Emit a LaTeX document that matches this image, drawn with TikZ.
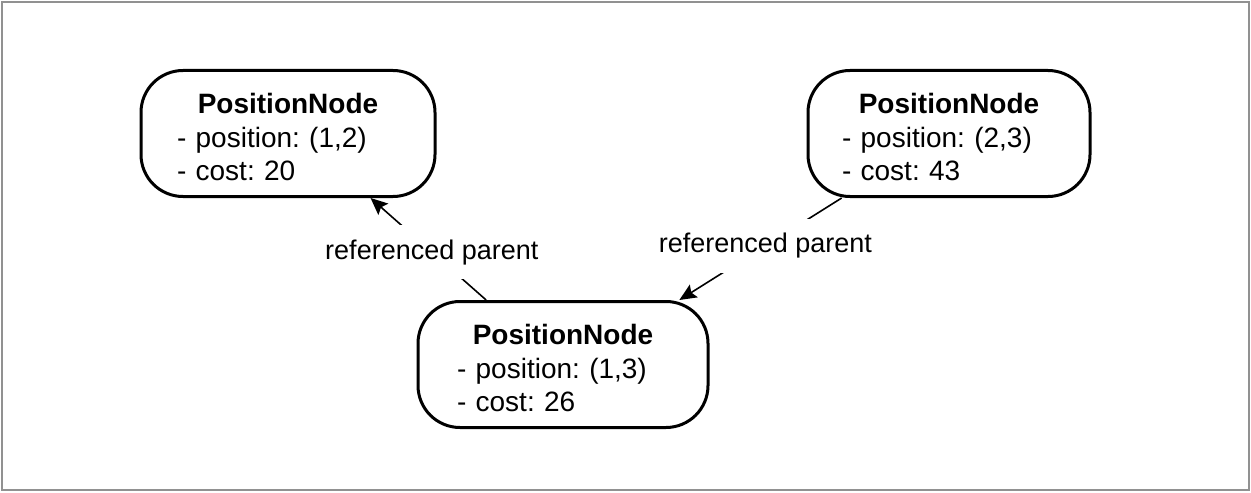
\documentclass[tikz,border=0pt]{standalone}
\usepackage{fontspec}
\setmainfont{Liberation Sans}
\usetikzlibrary{arrows.meta}
\definecolor{framegray}{RGB}{145,145,145}
\frenchspacing

\begin{document}
\begin{tikzpicture}[x=0.5pt, y=-0.5pt]
\tikzset{posnode/.style={draw, line width=1.5pt, rounded corners=21pt, minimum height=63pt, inner sep=0pt, align=left, text depth=30pt, font=\fontsize{14}{16.8}\selectfont},
  reflabel/.style={pos=0.47, fill=white, inner sep=0pt, minimum height=27pt, font=\fontsize{13.5}{16}\selectfont},
  refarrow/.style={line width=0.8pt, -{Stealth[length=8.5pt, width=7.5pt, inset=1.5pt]}}}
\useasboundingbox (0,0) rectangle (1251,492);
\draw[framegray, line width=1pt] (2,2) rectangle (1249,490);
\node[posnode, minimum width=147pt, text width=111pt] (P1) at (288,133.5) {\makebox[\linewidth]{\bfseries PositionNode}\\- position: (1,2)\\- cost: 20};
\node[posnode, minimum width=141pt, text width=107pt] (P2) at (949,133.5) {\makebox[\linewidth]{\bfseries PositionNode}\\- position: (2,3)\\- cost: 43};
\node[posnode, minimum width=145pt, text width=106pt] (P3) at (563,364.5) {\makebox[\linewidth]{\bfseries PositionNode}\\- position: (1,3)\\- cost: 26};
\draw[refarrow] (P3.140) -- node[reflabel] {referenced parent} (P1.-38);
\draw[refarrow] (P2.211) -- node[reflabel] {referenced parent} (P3.29);
\end{tikzpicture}
\end{document}
